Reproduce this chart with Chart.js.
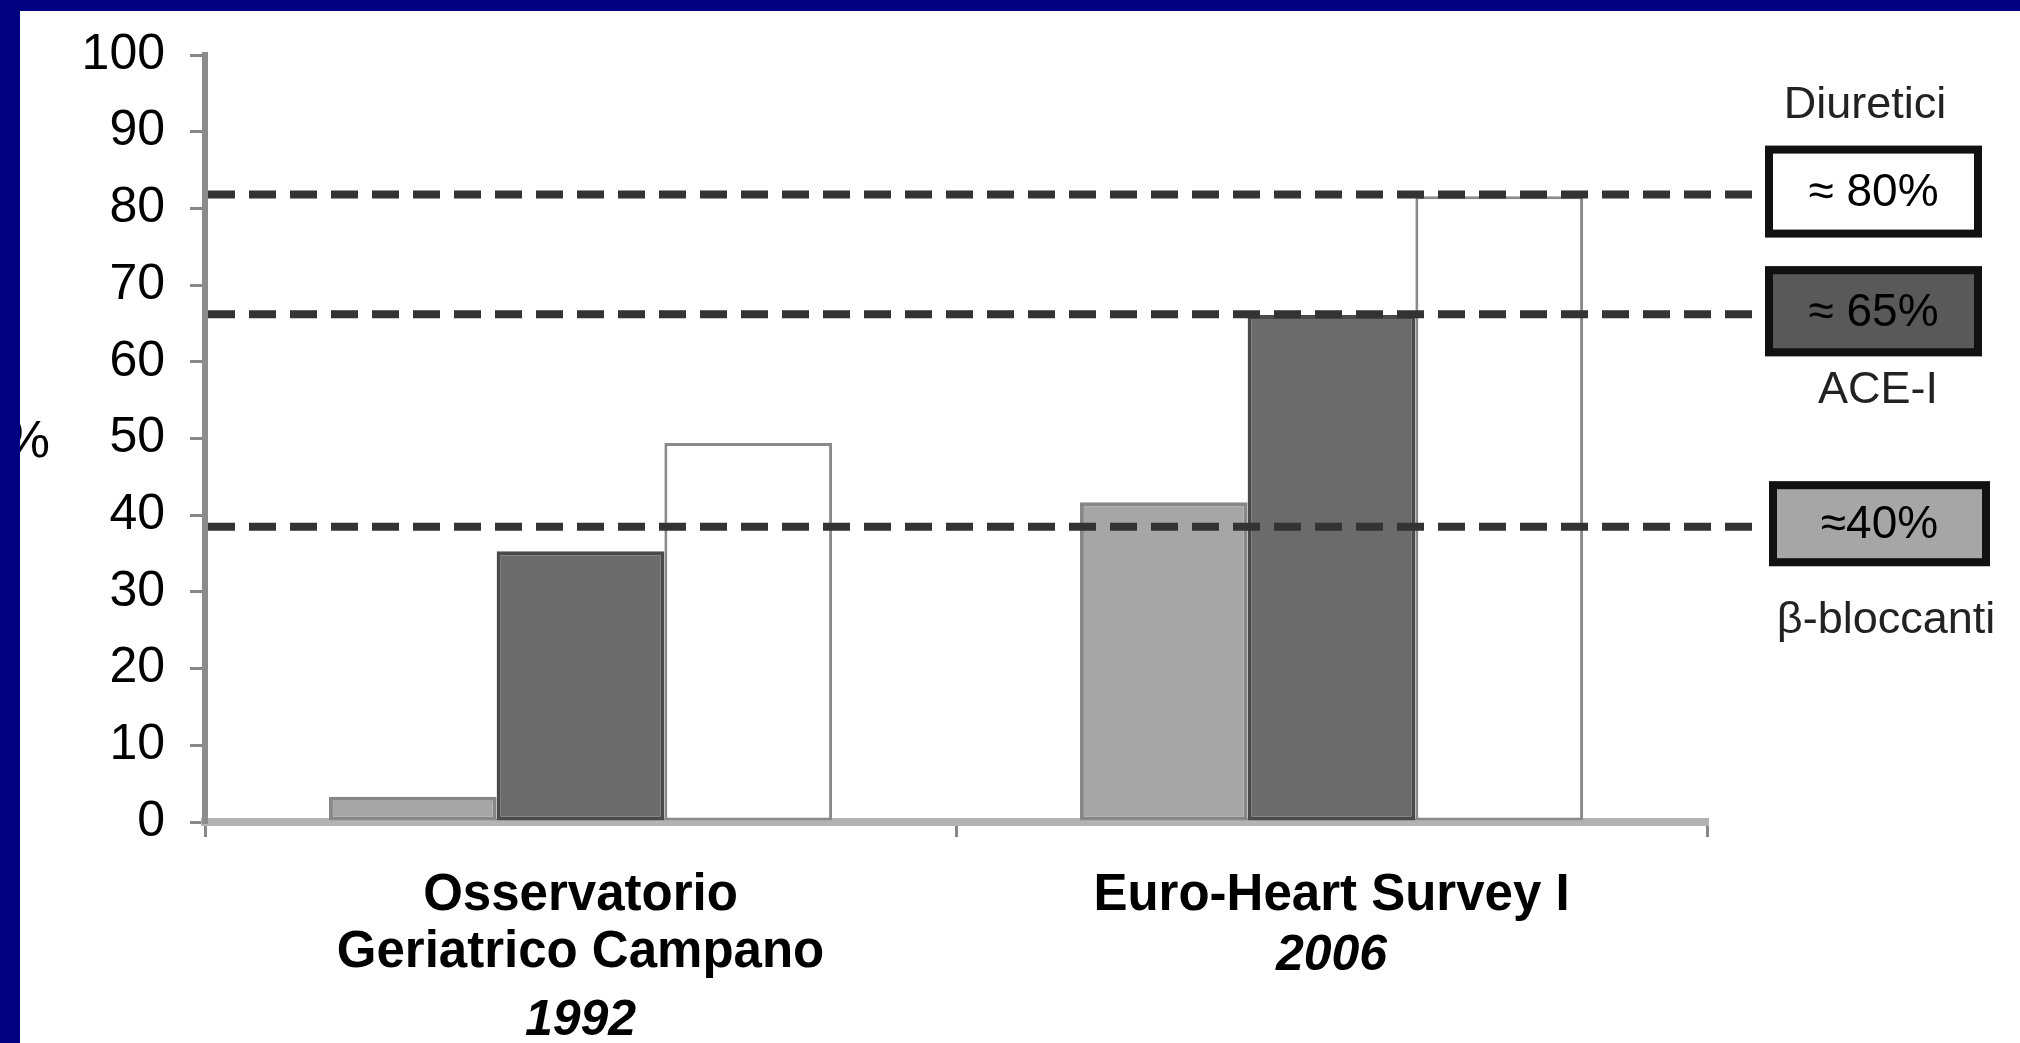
<!DOCTYPE html>
<html>
<head>
<meta charset="utf-8">
<script src="https://cdn.jsdelivr.net/npm/chart.js@4.4.1/dist/chart.umd.min.js"></script>
<style>
  html, body { margin: 0; padding: 0; background: #fff; overflow: hidden; }
  canvas { display: block; }
</style>
</head>
<body>
<canvas id="myChart" width="2020" height="1043"></canvas>
<script>
// data
const categories = [['Osservatorio', 'Geriatrico Campano'], ['Euro-Heart Survey I']];
const years = ['1992', '2006'];
const seriesNames = ['β-bloccanti', 'ACE-I', 'Diuretici'];
const betaBlockers = [3.3, 41.7];
const aceInhibitors = [35.3, 66.1];
const diuretics = [49.4, 81.6];
const yMin = 0, yMax = 100, yStep = 10;
const refLevels = [81.8, 66.2, 38.5];
const refLabels = ['≈ 80%', '≈ 65%', '≈40%'];
const refNames = ['Diuretici', 'ACE-I', 'β-bloccanti'];
const axisTitle = '%';

const FONT = '"Liberation Sans", Arial, sans-serif';
const TICK_LEN = 15;
const X_PAD = 30;
const LINE_H = 57;

const ctx = document.getElementById('myChart').getContext('2d');

const extras = {
  id: 'extras',
  afterDatasetsDraw(chart) {
    const c = chart.ctx;
    const y = chart.scales.y;
    c.save();
    c.strokeStyle = '#333';
    c.lineWidth = 8;
    c.setLineDash([27, 14]);
    refLevels.forEach(v => {
      const py = y.getPixelForValue(v);
      c.beginPath();
      c.moveTo(chart.chartArea.left + 3, py);
      c.lineTo(1766, py);
      c.stroke();
    });
    c.restore();
  },
  afterDraw(chart) {
    const c = chart.ctx;
    const y = chart.scales.y;
    const x = chart.scales.x;
    c.save();

    // boxes on the right
    const fills = ['#ffffff', '#595959', '#a6a6a6'];
    const boxX = [1765, 1765, 1769];
    const boxW = [217, 217, 221];
    const boxH = [92, 90, 85];
    const nameDy = [-40, 34, 54];
    const nameX = [1865, 1878, 1886];
    refLevels.forEach((v, i) => {
      const cy = y.getPixelForValue(v) - 3;
      const top = cy - boxH[i] / 2;
      c.fillStyle = fills[i];
      c.fillRect(boxX[i], top, boxW[i], boxH[i]);
      c.strokeStyle = '#111';
      c.lineWidth = 8;
      c.strokeRect(boxX[i] + 4, top + 4, boxW[i] - 8, boxH[i] - 8);
      c.fillStyle = '#000';
      c.font = '46px ' + FONT;
      c.textAlign = 'center';
      c.textBaseline = 'middle';
      c.fillText(refLabels[i], boxX[i] + boxW[i] / 2, cy + 2);
      c.fillStyle = '#222';
      c.font = '45px ' + FONT;
      const ny = nameDy[i] < 0 ? top + nameDy[i] : top + boxH[i] + nameDy[i];
      c.fillText(refNames[i], nameX[i], ny);
    });

    // years under category names
    c.font = 'italic bold 50px ' + FONT;
    c.fillStyle = '#000';
    c.textAlign = 'center';
    c.textBaseline = 'middle';
    years.forEach((yr, i) => {
      const lines = categories[i].length;
      const py = x.top + TICK_LEN + X_PAD + LINE_H * (lines + 0.5) + 4 + (lines - 1) * 8;
      c.fillText(yr, x.getPixelForValue(i), py);
    });

    // axis title, half hidden by the frame
    c.font = '52px ' + FONT;
    c.textAlign = 'right';
    c.fillText(axisTitle, 50, 443);

    // navy frame
    c.fillStyle = '#000080';
    c.fillRect(0, 0, 2020, 11);
    c.fillRect(0, 0, 20, 1043);
    c.restore();
  }
};

const myChart = new Chart(ctx, {
  type: 'bar',
  data: {
    labels: categories,
    datasets: [{
      label: seriesNames[0],
      data: betaBlockers,
      backgroundColor: '#a6a6a6',
      borderColor: '#878787',
      borderWidth: 4,
      borderSkipped: false
    }, {
      label: seriesNames[1],
      data: aceInhibitors,
      backgroundColor: '#6b6b6b',
      borderColor: '#4a4a4a',
      borderWidth: 4,
      borderSkipped: false
    }, {
      label: seriesNames[2],
      data: diuretics,
      backgroundColor: '#ffffff',
      borderColor: '#8a8a8a',
      borderWidth: 3,
      borderSkipped: false
    }]
  },
  options: {
    responsive: false,
    animation: false,
    devicePixelRatio: 1,
    barPercentage: 1,
    categoryPercentage: 0.67,
    layout: { padding: { top: 53, right: 313, left: 0, bottom: 0 } },
    plugins: {
      legend: { display: false },
      tooltip: { enabled: false }
    },
    scales: {
      x: {
        offset: true,
        grid: {
          offset: true,
          drawOnChartArea: false,
          tickLength: TICK_LEN,
          tickColor: '#888',
          tickWidth: 3,
          lineWidth: 3
        },
        border: { display: true, color: '#b3b3b3', width: 8 },
        ticks: {
          color: '#000',
          padding: X_PAD,
          maxRotation: 0,
          autoSkip: false,
          font: { family: FONT, size: 51, weight: 'bold', lineHeight: LINE_H / 51 }
        },
        afterFit(s) { s.height = 1043 - 822; }
      },
      y: {
        min: yMin,
        max: yMax,
        grid: {
          drawOnChartArea: false,
          tickLength: TICK_LEN,
          tickColor: '#888',
          tickWidth: 3,
          lineWidth: 3
        },
        border: { display: true, color: '#8c8c8c', width: 6 },
        ticks: {
          stepSize: yStep,
          color: '#000',
          padding: 25,
          font: { family: FONT, size: 50 }
        },
        afterFit(s) { s.width = 205; }
      }
    }
  },
  plugins: [extras]
});
</script>
</body>
</html>
